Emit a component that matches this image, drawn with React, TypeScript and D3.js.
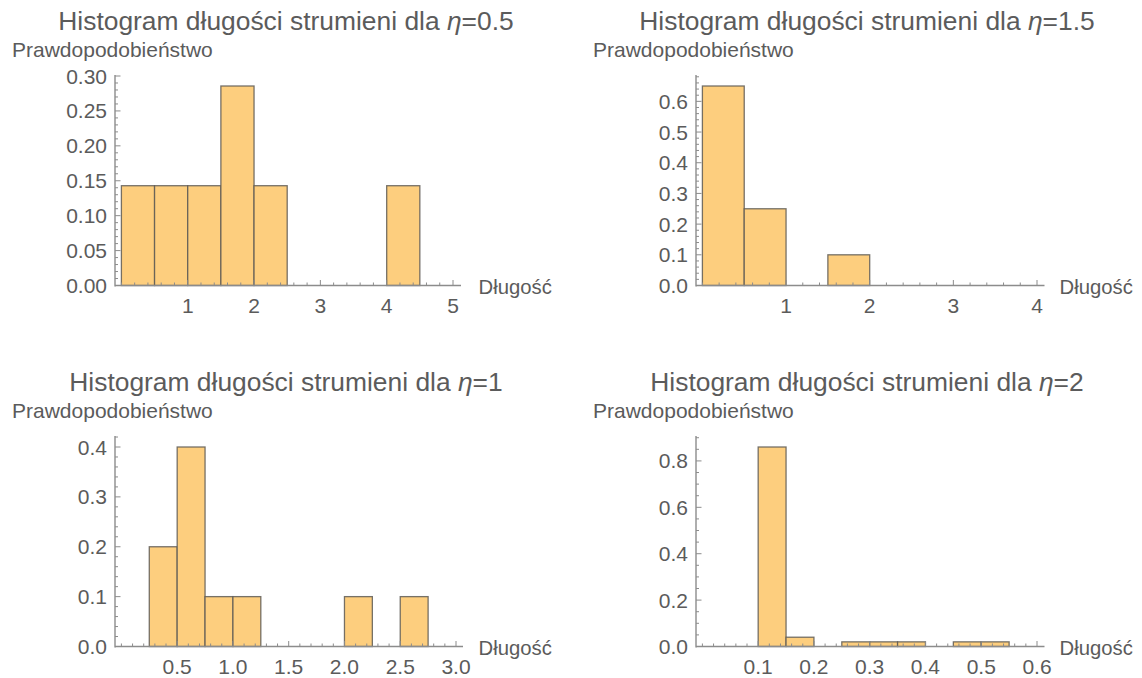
import React from "react";
import * as d3 from "d3";

// Bin intervals [from, to] and bin probabilities for each η value
const bins05: [number, number][] = [[0, 0.5], [0.5, 1], [1, 1.5], [1.5, 2], [2, 2.5], [4, 4.5]];
const probs05 = [0.1429, 0.1429, 0.1429, 0.2857, 0.1429, 0.1429];

const bins15: [number, number][] = [[0, 0.5], [0.5, 1], [1.5, 2]];
const probs15 = [0.65, 0.25, 0.1];

const bins1: [number, number][] = [[0.25, 0.5], [0.5, 0.75], [0.75, 1], [1, 1.25], [2, 2.25], [2.5, 2.75]];
const probs1 = [0.2, 0.4, 0.1, 0.1, 0.1, 0.1];

const bins2: [number, number][] = [[0.1, 0.15], [0.15, 0.2], [0.25, 0.3], [0.3, 0.35], [0.35, 0.4], [0.45, 0.5], [0.5, 0.55]];
const probs2 = [0.86, 0.04, 0.02, 0.02, 0.02, 0.02, 0.02];

// Axis tick definitions
const xMajor05 = [1, 2, 3, 4, 5];
const yMajor05 = [0, 0.05, 0.1, 0.15, 0.2, 0.25, 0.3];
const xMajor15 = [1, 2, 3, 4];
const yMajor15 = [0, 0.1, 0.2, 0.3, 0.4, 0.5, 0.6];
const xMajor1 = [0.5, 1, 1.5, 2, 2.5, 3];
const yMajor1 = [0, 0.1, 0.2, 0.3, 0.4];
const xMajor2 = [0.1, 0.2, 0.3, 0.4, 0.5, 0.6];
const yMajor2 = [0, 0.2, 0.4, 0.6, 0.8];

const etaLabels = ["0.5", "1.5", "1", "2"];

const FONT = "'Liberation Sans', Arial, sans-serif";
const TEXT = "#5b5b5b";
const AXIS = "#8c8c8c";
const FILL = "#fdce7e";
const EDGE = "#5e5a55";

type PanelDef = {
  eta: string;
  ox: number;
  oy: number;
  bins: [number, number][];
  probs: number[];
  xMax: number;
  xRight: number;
  axisRight: number;
  xMajor: number[];
  xMinorStep: number;
  xFmt: (v: number) => string;
  yMajor: number[];
  yMinorStep: number;
  yFmt: (v: number) => string;
};

const panels: PanelDef[] = [
  { eta: etaLabels[0], ox: 0, oy: 0, bins: bins05, probs: probs05, xMax: 5, xRight: 453, axisRight: 461, xMajor: xMajor05, xMinorStep: 0.2, xFmt: d3.format("d"), yMajor: yMajor05, yMinorStep: 0.01, yFmt: d3.format(".2f") },
  { eta: etaLabels[1], ox: 581, oy: 0, bins: bins15, probs: probs15, xMax: 4, xRight: 456, axisRight: 463.5, xMajor: xMajor15, xMinorStep: 0.2, xFmt: d3.format("d"), yMajor: yMajor15, yMinorStep: 0.02, yFmt: d3.format(".1f") },
  { eta: etaLabels[2], ox: 0, oy: 361, bins: bins1, probs: probs1, xMax: 3, xRight: 456, axisRight: 463, xMajor: xMajor1, xMinorStep: 0.1, xFmt: d3.format(".1f"), yMajor: yMajor1, yMinorStep: 0.02, yFmt: d3.format(".1f") },
  { eta: etaLabels[3], ox: 581, oy: 361, bins: bins2, probs: probs2, xMax: 0.6, xRight: 456, axisRight: 463.5, xMajor: xMajor2, xMinorStep: 0.02, xFmt: d3.format(".1f"), yMajor: yMajor2, yMinorStep: 0.05, yFmt: d3.format(".1f") },
];

function Panel({ p }: { p: PanelDef }) {
  const axisX = 115;
  const axisTop = 75;
  const y0 = 285.5;
  const x = d3.scaleLinear().domain([0, p.xMax]).range([121.4, p.xRight]);
  const yMaxVal = d3.max(p.probs) as number;
  const y = d3.scaleLinear().domain([0, yMaxVal]).range([y0, 86]);

  const xDomMin = x.invert(axisX);
  const xDomMax = x.invert(p.axisRight);
  const yDomMax = y.invert(axisTop);

  const xMinor = d3.range(0, xDomMax + 1e-9, p.xMinorStep).filter(
    (v) => v >= xDomMin && !p.xMajor.some((m) => Math.abs(m - v) < 1e-6)
  );
  const yMinor = d3.range(0, yDomMax + 1e-9, p.yMinorStep).filter(
    (v) => !p.yMajor.some((m) => Math.abs(m - v) < 1e-6)
  );

  return (
    <g transform={`translate(${p.ox},${p.oy})`} fontFamily={FONT}>
      <text x={286} y={30} textAnchor="middle" fontSize={26.4} fill={TEXT}>
        Histogram długości strumieni dla <tspan fontStyle="italic">η</tspan>={p.eta}
      </text>
      <text x={12} y={57} fontSize={21} fill={TEXT}>Prawdopodobieństwo</text>

      {p.bins.map(([a, b], i) => (
        <rect
          key={i}
          x={x(a)}
          y={y(p.probs[i])}
          width={x(b) - x(a)}
          height={y0 - y(p.probs[i])}
          fill={FILL}
          stroke={EDGE}
          strokeWidth={1.3}
          strokeOpacity={0.85}
        />
      ))}

      {/* axes */}
      <line x1={axisX} x2={p.axisRight} y1={y0} y2={y0} stroke={AXIS} strokeWidth={1.4} />
      <line x1={axisX} x2={axisX} y1={axisTop} y2={y0 + 1} stroke={AXIS} strokeWidth={1.4} />

      {xMinor.map((v, i) => (
        <line key={`xm${i}`} x1={x(v)} x2={x(v)} y1={y0} y2={y0 - 3} stroke={AXIS} strokeWidth={1} />
      ))}
      {p.xMajor.map((v, i) => (
        <g key={`xM${i}`}>
          <line x1={x(v)} x2={x(v)} y1={y0} y2={y0 - 5.5} stroke={AXIS} strokeWidth={1} />
          <text x={x(v)} y={y0 + 27} textAnchor="middle" fontSize={21} fill={TEXT}>
            {p.xFmt(v)}
          </text>
        </g>
      ))}
      {yMinor.map((v, i) => (
        <line key={`ym${i}`} x1={axisX} x2={axisX + 3} y1={y(v)} y2={y(v)} stroke={AXIS} strokeWidth={1} />
      ))}
      {p.yMajor.map((v, i) => (
        <g key={`yM${i}`}>
          <line x1={axisX} x2={axisX + 5.5} y1={y(v)} y2={y(v)} stroke={AXIS} strokeWidth={1} />
          <text x={axisX - 8} y={y(v) + 7.5} textAnchor="end" fontSize={21} fill={TEXT}>
            {p.yFmt(v)}
          </text>
        </g>
      ))}
      <text x={478.5} y={y0 + 8} fontSize={20.3} fill={TEXT}>Długość</text>
    </g>
  );
}

export default function App() {
  return (
    <svg
      width={1142}
      height={678}
      style={{ position: "absolute", left: 0, top: 0, background: "#fff" }}
    >
      <rect width={1142} height={678} fill="#fff" />
      {panels.map((p, i) => (
        <Panel key={i} p={p} />
      ))}
    </svg>
  );
}
